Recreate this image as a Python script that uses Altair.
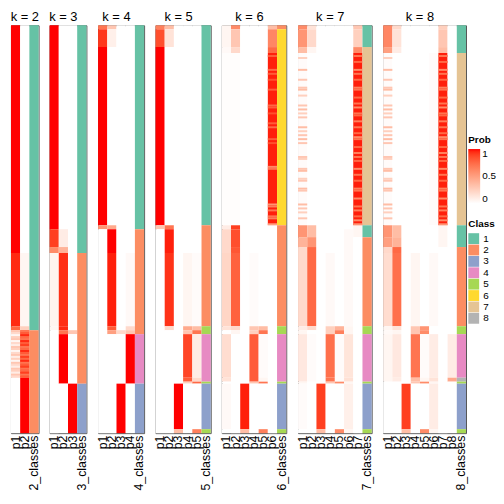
import altair as alt
import pandas as pd

FONT = "Liberation Sans"
N_ROWS = 206
# sample-row boundaries of the blocks (sample order shared by all panels)
BOUNDS = [0, 2, 11, 14, 101, 103, 107, 112, 115, 152, 154, 156, 178, 180, 181, 204, 206]
KS = [2, 3, 4, 5, 6, 7, 8]

CLASS_LEVELS = ["1", "2", "3", "4", "5", "6", "7", "8"]
CLASS_COLORS = ["#66C2A5", "#FC8D62", "#8DA0CB", "#E78AC3", "#A6D854", "#FFD92F", "#E5C494", "#B3B3B3"]

CLASS_K2 = [1, 1, 1, 1, 1, 1, 1, 1, 1, 1, 2, 2, 2, 2, 2, 2]
CLASS_K3 = [1, 1, 1, 1, 1, 1, 1, 1, 2, 2, 2, 2, 2, 2, 3, 3]
CLASS_K4 = [1, 1, 1, 1, 1, 2, 2, 2, 2, 2, 2, 4, 4, 4, 3, 3]
CLASS_K5 = [1, 1, 1, 1, 2, 2, 2, 2, 2, 5, 5, 4, 4, 5, 3, 5]
CLASS_K6 = [2, 6, 6, 6, 2, 2, 2, 2, 2, 5, 5, 4, 4, 5, 3, 5]
CLASS_K7 = [1, 1, 7, 7, 1, 1, 2, 2, 2, 5, 5, 4, 4, 5, 3, 5]
CLASS_K8 = [1, 1, 1, 7, 1, 1, 1, 2, 2, 5, 5, 4, 8, 5, 3, 5]

PROB_K2 = [
    [1, 1, 1, 1, 1, 1, 1, 1, 0.95, 0.75, 0.2, 0.15, 0, 0, 0, 0],
    [0, 0, 0, 0, 0, 0, 0, 0, 0.05, 0.25, 0.8, 0.85, 1, 1, 1, 1],
]
PROB_K3 = [
    [1, 1, 1, 1, 1, 0.9, 0.9, 0.6, 0.06, 0.05, 0, 0, 0, 0, 0, 0],
    [0, 0, 0, 0, 0, 0.1, 0.1, 0.4, 0.94, 0.95, 0.7, 1, 1, 1, 0, 0],
    [0, 0, 0, 0, 0, 0, 0, 0, 0, 0, 0.3, 0, 0, 0, 1, 1],
]
PROB_K4 = [
    [0.7, 0.92, 1, 1, 0.55, 0, 0, 0, 0, 0, 0, 0, 0, 0, 0, 0],
    [0.3, 0.08, 0, 0, 0.45, 1, 1, 1, 0.97, 0.8, 0.5, 0, 0, 0, 0, 0],
    [0, 0, 0, 0, 0, 0, 0, 0, 0, 0, 0.2, 0, 0, 0, 1, 1],
    [0, 0, 0, 0, 0, 0, 0, 0, 0.03, 0.2, 0.3, 1, 1, 1, 0, 0],
]
PROB_K5 = [
    [0.65, 0.85, 1, 1, 0.3, 0, 0, 0, 0, 0, 0, 0, 0, 0, 0, 0],
    [0.35, 0.15, 0, 0, 0.7, 0.97, 0.97, 0.97, 0.93, 0.2, 0, 0, 0, 0, 0, 0],
    [0, 0, 0, 0, 0, 0, 0, 0, 0, 0, 0, 0, 0, 0, 1, 0.35],
    [0, 0, 0, 0, 0, 0, 0, 0, 0.05, 0.45, 0.3, 0.88, 0.8, 0.25, 0, 0],
    [0, 0, 0, 0, 0, 0, 0, 0, 0.02, 0.35, 0.7, 0.1, 0.2, 0.75, 0, 0.65],
]
PROB_K6 = [
    [0.05, 0.05, 0.03, 0.01, 0.1, 0.2, 0.2, 0.2, 0.22, 0.15, 0, 0.18, 0.15, 0, 0.03, 0],
    [0.6, 0.3, 0.2, 0.01, 0.9, 0.85, 0.85, 0.82, 0.78, 0.2, 0.05, 0, 0, 0, 0, 0],
    [0, 0, 0, 0, 0, 0, 0, 0, 0, 0, 0, 0, 0, 0, 0.97, 0.35],
    [0, 0, 0, 0, 0, 0, 0, 0, 0.02, 0.3, 0.25, 0.8, 0.8, 0.3, 0, 0],
    [0, 0, 0, 0, 0, 0, 0, 0, 0, 0.35, 0.7, 0.02, 0.05, 0.7, 0, 0.65],
    [0.35, 0.62, 0.75, 0.97, 0, 0, 0, 0, 0, 0, 0, 0, 0, 0, 0, 0],
]
PROB_K7 = [
    [0.6, 0.55, 0.35, 0.02, 0.55, 0.55, 0.4, 0.2, 0.2, 0.1, 0.05, 0.12, 0.12, 0.05, 0.02, 0],
    [0.15, 0.2, 0.05, 0, 0.35, 0.35, 0.55, 0.75, 0.75, 0.2, 0, 0.02, 0.02, 0, 0, 0],
    [0, 0, 0, 0, 0, 0, 0, 0, 0, 0, 0, 0, 0, 0, 0.9, 0.35],
    [0, 0, 0, 0, 0, 0, 0, 0, 0.03, 0.25, 0.25, 0.72, 0.7, 0.3, 0, 0],
    [0, 0, 0, 0, 0, 0, 0, 0, 0, 0.4, 0.65, 0.02, 0.02, 0.6, 0, 0.6],
    [0, 0, 0, 0, 0, 0.03, 0.03, 0.03, 0.03, 0.05, 0.05, 0.14, 0.16, 0.05, 0.08, 0.05],
    [0.3, 0.25, 0.6, 0.97, 0.05, 0.05, 0, 0, 0, 0, 0, 0, 0, 0, 0, 0],
]
PROB_K8 = [
    [0.62, 0.62, 0.5, 0.02, 0.55, 0.55, 0.5, 0.2, 0.18, 0.05, 0.03, 0.05, 0.05, 0, 0, 0],
    [0.2, 0.15, 0.1, 0, 0.35, 0.35, 0.4, 0.75, 0.72, 0.15, 0.05, 0.12, 0.1, 0, 0, 0],
    [0, 0, 0, 0, 0, 0, 0, 0, 0, 0, 0, 0, 0, 0, 0.9, 0.35],
    [0, 0, 0, 0, 0, 0, 0, 0, 0.05, 0.3, 0.3, 0.7, 0.35, 0.3, 0, 0],
    [0, 0, 0, 0, 0, 0, 0, 0, 0, 0.55, 0.6, 0.02, 0.05, 0.6, 0, 0.6],
    [0, 0, 0, 0.02, 0, 0, 0, 0, 0.03, 0, 0, 0.1, 0.15, 0.05, 0.1, 0.05],
    [0.25, 0.3, 0.35, 0.97, 0.05, 0.05, 0.05, 0, 0, 0, 0, 0, 0, 0, 0, 0],
    [0, 0, 0, 0, 0, 0, 0, 0, 0, 0, 0, 0.1, 0.45, 0, 0, 0],
]

# single-sample streaks (sample row, probability)
K2_MIX_ROWS = list(range(154, 178))
K2_MIX_P1 = [0.3, 0.2, 0.05, 0.25, 0.3, 0.05, 0.2, 0.1, 0.3, 0.25, 0.05, 0.2,
             0.3, 0.1, 0.25, 0.05, 0.3, 0.2, 0.1, 0.3, 0.25, 0.1, 0.3, 0.2]
K6_P6_ROWS = [15, 22, 24, 27, 32, 40, 41, 44, 49, 51, 57, 59, 71, 72, 90, 91, 93, 96, 97, 100]
K6_P6_VALS = [0.8, 0.75, 0.8, 0.85, 0.8, 0.75, 0.8, 0.85, 0.8, 0.75, 0.8, 0.85,
              0.6, 0.7, 0.55, 0.65, 0.7, 0.7, 0.65, 0.5]
TAN_P7_ROWS = [15, 18, 22, 24, 27, 31, 32, 36, 39, 41, 44, 45, 48, 51, 54, 56,
               57, 61, 64, 66, 68, 72, 75, 78, 82, 83, 87, 91, 93, 96, 98, 100]
TAN_P7_VALS = [0.7, 0.75, 0.6, 0.7, 0.75, 0.65, 0.7, 0.75, 0.7, 0.6, 0.7, 0.75,
               0.65, 0.7, 0.75, 0.6, 0.7, 0.75, 0.65, 0.7, 0.75, 0.6, 0.7, 0.75,
               0.65, 0.7, 0.6, 0.7, 0.65, 0.75, 0.6, 0.55]
TAN_P1_ROWS = [16, 22, 27, 31, 32, 35, 40, 42, 44, 46, 51, 53, 55, 57, 59, 66,
               67, 72, 73, 77, 78, 82, 83, 90, 92, 94, 97]
TAN_P1_VALS = [0.25, 0.35, 0.3, 0.3, 0.35, 0.25, 0.3, 0.35, 0.25, 0.3, 0.35, 0.25,
               0.3, 0.35, 0.3, 0.3, 0.25, 0.3, 0.35, 0.25, 0.3, 0.35, 0.3, 0.35,
               0.3, 0.25, 0.3]

STREAKS = {
    2: [("p1", K2_MIX_ROWS, K2_MIX_P1), ("p2", K2_MIX_ROWS, [1 - v for v in K2_MIX_P1])],
    6: [("p6", K6_P6_ROWS, K6_P6_VALS)],
    7: [("p7", TAN_P7_ROWS, TAN_P7_VALS), ("p1", TAN_P1_ROWS, TAN_P1_VALS)],
    8: [("p7", TAN_P7_ROWS, TAN_P7_VALS), ("p1", TAN_P1_ROWS, TAN_P1_VALS)],
}

CLASSES = {2: CLASS_K2, 3: CLASS_K3, 4: CLASS_K4, 5: CLASS_K5, 6: CLASS_K6, 7: CLASS_K7, 8: CLASS_K8}
PROBS = {2: PROB_K2, 3: PROB_K3, 4: PROB_K4, 5: PROB_K5, 6: PROB_K6, 7: PROB_K7, 8: PROB_K8}

COL_W = 9.3
PANEL_H = 412

prob_legend = alt.Legend(
    title="Prob", orient="none", legendX=462, legendY=111, direction="vertical",
    gradientLength=55, gradientThickness=12, values=[0, 0.5, 1], format="~g",
    titleFont=FONT, titleFontSize=10, titleFontWeight="bold", titleColor="black",
    labelFont=FONT, labelFontSize=10, labelColor="black", titlePadding=4,
    gradientStrokeWidth=0,
)
class_legend = alt.Legend(
    title="Class", orient="none", legendX=462, legendY=196,
    symbolType="square", symbolSize=120, symbolStrokeWidth=0, rowPadding=0.5,
    titleFont=FONT, titleFontSize=10, titleFontWeight="bold", titleColor="black",
    labelFont=FONT, labelFontSize=10, labelColor="black", titlePadding=4,
)


def runs(values):
    """merge consecutive blocks with equal value -> (start, end, value)"""
    out = []
    for s, v in enumerate(values):
        if out and out[-1][2] == v:
            out[-1][1] = BOUNDS[s + 1]
        else:
            out.append([BOUNDS[s], BOUNDS[s + 1], v])
    return out


def panel(k):
    cols = [f"p{j}" for j in range(1, k + 1)] + [f"{k}_classes"]
    prob_rows, class_rows = [], []
    for j in range(k):
        for a, b, v in runs(PROBS[k][j]):
            prob_rows.append({"col": cols[j], "y0": a, "y1": b, "prob": v})
    for col, rows, vals in STREAKS.get(k, []):
        for r, v in zip(rows, vals):
            prob_rows.append({"col": col, "y0": r, "y1": r + 1, "prob": v})
    for a, b, c in runs(CLASSES[k]):
        class_rows.append({"col": cols[k], "y0": a, "y1": b, "cls": str(c)})

    xenc = alt.X("col:N", sort=cols,
                 scale=alt.Scale(domain=cols, paddingInner=0, paddingOuter=0),
                 axis=alt.Axis(title=None, labelAngle=-90, ticks=False, domain=False,
                               labelPadding=2, labelFont=FONT, labelFontSize=12.5,
                               labelColor="black", labelOverlap=False, labelBound=False))
    yenc = alt.Y("y0:Q", scale=alt.Scale(domain=[0, N_ROWS], reverse=True, nice=False, zero=False),
                 axis=None)
    p_layer = alt.Chart(pd.DataFrame(prob_rows)).mark_rect().encode(
        x=xenc, y=yenc, y2="y1:Q",
        fill=alt.Fill("prob:Q", scale=alt.Scale(domain=[0, 1], range=["#FFFFFF", "#FF0000"],
                                                interpolate="lab"),
                      legend=prob_legend),
    )
    c_layer = alt.Chart(pd.DataFrame(class_rows)).mark_rect().encode(
        x=xenc, y=yenc, y2="y1:Q",
        color=alt.Color("cls:N", scale=alt.Scale(domain=CLASS_LEVELS, range=CLASS_COLORS),
                        legend=class_legend),
    )
    dx = 0 if k == 2 else -COL_W / 2
    return alt.layer(p_layer, c_layer).properties(
        width=(k + 1) * COL_W, height=PANEL_H,
        title=alt.TitleParams(f"k = {k}", font=FONT, fontSize=13, fontWeight="normal",
                              color="black", anchor="middle", dx=dx, offset=1),
    )


chart = alt.hconcat(*[panel(k) for k in KS], spacing=11, bounds="flush").resolve_scale(
    x="independent", y="shared", fill="shared", color="shared"
).properties(padding=0).configure_view(stroke="#555555", strokeWidth=1)

chart.save("out.html", embed_options={"renderer": "svg", "actions": False})
